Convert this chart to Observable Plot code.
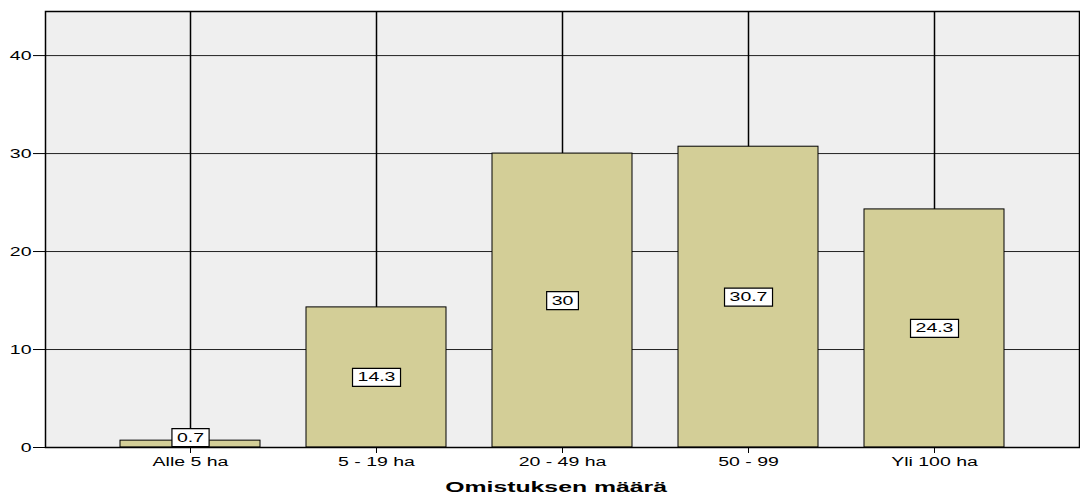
<!DOCTYPE html>
<html><head><meta charset="utf-8">
<script src="https://cdn.jsdelivr.net/npm/d3@7"></script>
<script src="https://cdn.jsdelivr.net/npm/@observablehq/plot@0.6"></script>
<style>body{margin:0;background:#fff}</style>
</head><body><div id="chart"></div>
<script>
const categories = ["Alle 5 ha", "5 - 19 ha", "20 - 49 ha", "50 - 99", "Yli 100 ha"];
const values = [0.7, 14.3, 30, 30.7, 24.3];
const yTicks = [0, 10, 20, 30, 40];
const xTitle = "Omistuksen määrä";
const data = categories.map((c, i) => ({category: c, value: values[i]}));

const chart = Plot.plot({
  width: 1080, height: 495,
  marginLeft: 45, marginRight: 1, marginTop: 11, marginBottom: 48,
  style: {fontFamily: "'Liberation Sans', Arial, sans-serif", fontSize: "12.5px", background: "#fff", color: "#000", overflow: "visible"},
  x: {domain: categories, paddingInner: 0.25, paddingOuter: 0.4, label: null},
  y: {domain: [0, 44.5], label: null},
  marks: [
    Plot.frame({fill: "#efefef"}),
    Plot.gridY(yTicks, {stroke: "#222", strokeOpacity: 1, strokeWidth: 1}),
    Plot.gridX({stroke: "#000", strokeOpacity: 1, strokeWidth: 1.5}),
    Plot.barY(data, {x: "category", y: "value", fill: "#d3ce97", stroke: "#000", strokeWidth: 1}),
    Plot.axisY({ticks: yTicks, tickSize: 12, tickPadding: 2, label: null}),
    Plot.axisX({tickSize: 6, tickPadding: 4, label: xTitle, labelAnchor: "center", labelOffset: 44}),
    Plot.frame({stroke: "#000", strokeWidth: 1.5}),
    Plot.text(data, {x: "category", y: d => Math.max(d.value / 2, 1), text: d => String(d.value), fill: "#000", fontSize: 12.5})
  ]
});
document.getElementById("chart").appendChild(chart);

const SX = 1.56;
function stretch(el, s) {
  const t = el.getAttribute("transform") || "";
  el.setAttribute("transform", (t + " scale(" + (s || SX) + ",1)").trim());
}
chart.querySelectorAll('g[aria-label="x-axis tick label"] text, g[aria-label="y-axis tick label"] text').forEach(el => stretch(el));
chart.querySelectorAll('g[aria-label="x-axis label"] text').forEach(el => {
  el.style.fontWeight = "bold";
  el.style.fontSize = "15.5px";
  el.setAttribute("dx", "-4");
  stretch(el, 1.6);
});
chart.querySelectorAll('g[aria-label="text"] text').forEach(el => {
  const b = el.getBBox();
  const r = document.createElementNS("http://www.w3.org/2000/svg", "rect");
  const px = 3.2, py = 2.5;
  r.setAttribute("x", b.x - px);
  r.setAttribute("y", b.y - py + 0.5);
  r.setAttribute("width", b.width + 2 * px);
  r.setAttribute("height", b.height + 2 * py - 1);
  r.setAttribute("fill", "#fff");
  r.setAttribute("stroke", "#000");
  r.setAttribute("stroke-width", "1.2");
  r.setAttribute("vector-effect", "non-scaling-stroke");
  const t = el.getAttribute("transform");
  if (t) r.setAttribute("transform", t);
  el.parentNode.insertBefore(r, el);
  stretch(r);
  stretch(el);
});
</script>
</body></html>
